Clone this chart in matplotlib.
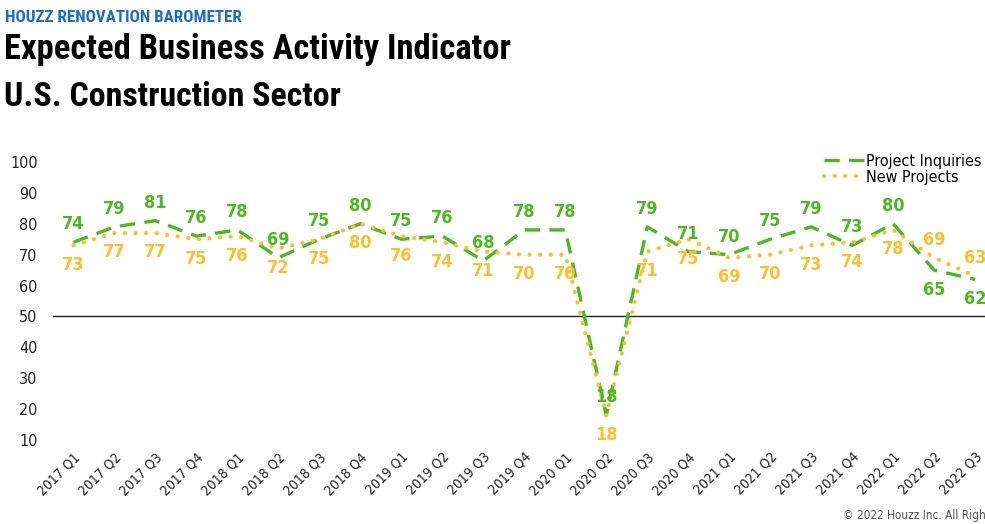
import matplotlib
matplotlib.use('Agg')
import matplotlib.pyplot as plt
import numpy as np

quarters = ['2017 Q1', '2017 Q2', '2017 Q3', '2017 Q4', '2018 Q1', '2018 Q2', '2018 Q3', '2018 Q4',
            '2019 Q1', '2019 Q2', '2019 Q3', '2019 Q4', '2020 Q1', '2020 Q2', '2020 Q3', '2020 Q4',
            '2021 Q1', '2021 Q2', '2021 Q3', '2021 Q4', '2022 Q1', '2022 Q2', '2022 Q3']
inquiries = [74, 79, 81, 76, 78, 69, 75, 80, 75, 76, 68, 78, 78, 18, 79, 71, 70, 75, 79, 73, 80, 65, 62]
new_projects = [73, 77, 77, 75, 76, 72, 75, 80, 76, 74, 71, 70, 70, 18, 71, 75, 69, 70, 73, 74, 78, 69, 63]
yticks = [10, 20, 30, 40, 50, 60, 70, 80, 90, 100]

green = '#4db820'
orange = '#ffbe2c'

plt.rcParams['font.family'] = ['DejaVu Sans']
plt.rcParams['font.stretch'] = 'condensed'

fig = plt.figure(figsize=(9.85, 5.24), dpi=100)
ax = fig.add_axes([0.0538, 0.160, 0.957, 0.531])

x = np.arange(len(quarters))
ax.plot(x, inquiries, color=green, lw=2.4, linestyle=(0, (4.6, 2.8)), label='Project Inquiries')
ax.plot(x, new_projects, color=orange, lw=3.0, linestyle=(0, (0.05, 2.5)),
        dash_capstyle='round', label='New Projects')
ax.axhline(50, color='#222222', lw=1.0, zorder=0)

# labels: inquiries above, new projects below (last two swapped)
for i in range(len(x)):
    up, down = 13, -14
    if i >= len(x) - 2:
        up, down = down, up
    ax.annotate(str(inquiries[i]), (x[i], inquiries[i]), xytext=(0, up), textcoords='offset points',
                ha='center', va='center', color=green, fontsize=13, fontweight='bold')
    ax.annotate(str(new_projects[i]), (x[i], new_projects[i]), xytext=(0, down), textcoords='offset points',
                ha='center', va='center', color=orange, fontsize=13, fontweight='bold')

ax.set_xlim(-0.5, len(x) - 0.5)
ax.set_ylim(10, 100)
ax.set_yticks(yticks)
ax.set_xticks(x)
ax.set_xticklabels(quarters, rotation=45, ha='right', rotation_mode='anchor')
ax.tick_params(axis='both', length=0, colors='#222222')
ax.tick_params(axis='x', pad=7, labelsize=10)
ax.tick_params(axis='y', pad=11, labelsize=11.5)
for s in ax.spines.values():
    s.set_visible(False)

leg = ax.legend(loc='upper right', bbox_to_anchor=(983 / 995.5 + 0.004, 1.052), frameon=False,
                fontsize=11.5, handlelength=2.5, handletextpad=0.1, labelspacing=0.05,
                borderaxespad=0)

renderer = fig.canvas.get_renderer()


def fit_text(xpos, ypos, txt, color, width_px, size=20):
    t = fig.text(xpos, ypos, txt, color=color, fontsize=size, fontweight='bold', va='center', ha='left',
                 family='Roboto Condensed', fontstretch='condensed')
    w = t.get_window_extent(renderer).width
    t.set_fontsize(size * width_px / w)
    return t


fit_text(5 / 985, 1 - 17 / 524, 'HOUZZ RENOVATION BAROMETER', '#1a6ec8', 238)
fit_text(4 / 985, 1 - 50 / 524, 'Expected Business Activity Indicator', 'black', 504)
fit_text(4 / 985, 1 - 97 / 524, 'U.S. Construction Sector', 'black', 336)
fig.text(843 / 985, 1 - 516 / 524, '\u00a9 2022 Houzz Inc. All Rights Reserved', color='#555555', fontsize=8.5,
         va='center', ha='left')

fig.savefig('out.png', dpi=100)
